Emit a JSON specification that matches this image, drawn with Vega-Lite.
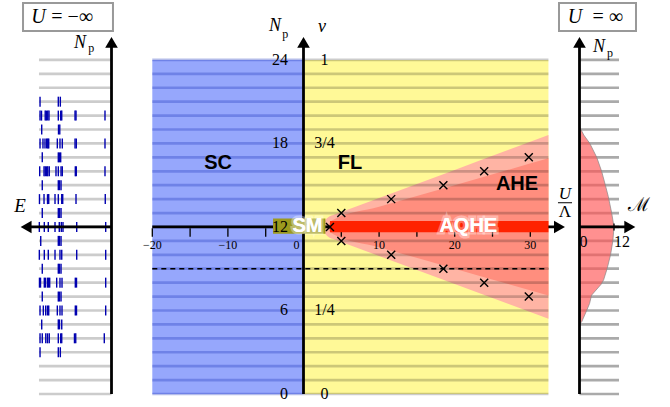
{
"$schema":"https://vega.github.io/schema/vega-lite/v6.json",
"width":670,"height":407,"padding":0,"autosize":{"type":"none"},
"background":"white",
"config":{"view":{"stroke":null}},
"data":{"values":[{}]},
"datasets":{
"levels":[{"Np":0},{"Np":1},{"Np":2},{"Np":3},{"Np":4},{"Np":5},{"Np":6},{"Np":7},{"Np":8},{"Np":9},{"Np":10},{"Np":11},{"Np":12},{"Np":13},{"Np":14},{"Np":15},{"Np":16},{"Np":17},{"Np":18},{"Np":19},{"Np":20},{"Np":21},{"Np":22},{"Np":23},{"Np":24}],
"leftTicks":[
{"Np":21,"E":10.21},{"Np":21,"E":7.6},{"Np":21,"E":7.31},
{"Np":19,"E":9.97},{"Np":19,"E":7.57},{"Np":19,"E":7.39},
{"Np":17,"E":9.89},{"Np":17,"E":7.6},{"Np":17,"E":7.43},{"Np":17,"E":7.26},
{"Np":15,"E":9.89},{"Np":15,"E":7.6},{"Np":15,"E":7.43},{"Np":15,"E":7.21},
{"Np":13,"E":9.89},{"Np":13,"E":7.6},{"Np":13,"E":7.43},{"Np":13,"E":7.21},
{"Np":11,"E":10.11},{"Np":11,"E":7.6},{"Np":11,"E":7.43},{"Np":11,"E":7.21},
{"Np":9,"E":9.89},{"Np":9,"E":7.6},{"Np":9,"E":7.43},{"Np":9,"E":7.21},
{"Np":7,"E":9.89},{"Np":7,"E":7.6},{"Np":7,"E":7.43},{"Np":7,"E":7.21},
{"Np":5,"E":9.97},{"Np":5,"E":7.6},{"Np":5,"E":7.43},{"Np":5,"E":7.11},
{"Np":3,"E":10.21},{"Np":3,"E":7.6},{"Np":3,"E":7.31},
{"Np":20,"E":10.21},{"Np":20,"E":10.0},{"Np":20,"E":9.47},{"Np":20,"E":9.31},{"Np":20,"E":9.11},{"Np":20,"E":8.93},{"Np":20,"E":7.6},{"Np":20,"E":7.26},{"Np":20,"E":7.11},{"Np":20,"E":5.21},{"Np":20,"E":5.07},{"Np":20,"E":0.93},
{"Np":18,"E":10.21},{"Np":18,"E":9.79},{"Np":18,"E":9.5},{"Np":18,"E":9.26},{"Np":18,"E":9.11},{"Np":18,"E":8.97},{"Np":18,"E":7.74},{"Np":18,"E":7.36},{"Np":18,"E":7.03},{"Np":18,"E":5.21},{"Np":18,"E":5.03},{"Np":18,"E":0.93},
{"Np":16,"E":10.26},{"Np":16,"E":9.64},{"Np":16,"E":9.46},{"Np":16,"E":9.26},{"Np":16,"E":9.11},{"Np":16,"E":8.89},{"Np":16,"E":7.93},{"Np":16,"E":7.6},{"Np":16,"E":7.21},{"Np":16,"E":7.03},{"Np":16,"E":5.17},{"Np":16,"E":5.03},{"Np":16,"E":0.93},
{"Np":14,"E":10.29},{"Np":14,"E":9.64},{"Np":14,"E":9.14},{"Np":14,"E":8.97},{"Np":14,"E":8.07},{"Np":14,"E":7.6},{"Np":14,"E":7.11},{"Np":14,"E":6.97},{"Np":14,"E":5.07},{"Np":14,"E":0.89},
{"Np":12,"E":10.31},{"Np":12,"E":9.6},{"Np":12,"E":9.03},{"Np":12,"E":8.07},{"Np":12,"E":7.46},{"Np":12,"E":7.17},{"Np":12,"E":6.93},{"Np":12,"E":4.97},{"Np":12,"E":0.83},
{"Np":10,"E":10.31},{"Np":10,"E":9.6},{"Np":10,"E":9.03},{"Np":10,"E":8.07},{"Np":10,"E":7.36},{"Np":10,"E":7.11},{"Np":10,"E":4.97},{"Np":10,"E":0.83},
{"Np":8,"E":10.29},{"Np":8,"E":10.14},{"Np":8,"E":9.6},{"Np":8,"E":9.43},{"Np":8,"E":9.14},{"Np":8,"E":9.0},{"Np":8,"E":8.83},{"Np":8,"E":7.83},{"Np":8,"E":7.36},{"Np":8,"E":7.07},{"Np":8,"E":5.17},{"Np":8,"E":5.0},{"Np":8,"E":0.83},
{"Np":6,"E":10.21},{"Np":6,"E":9.74},{"Np":6,"E":9.4},{"Np":6,"E":9.14},{"Np":6,"E":8.97},{"Np":6,"E":7.74},{"Np":6,"E":7.36},{"Np":6,"E":7.07},{"Np":6,"E":5.17},{"Np":6,"E":5.0},{"Np":6,"E":0.83},
{"Np":4,"E":10.21},{"Np":4,"E":9.89},{"Np":4,"E":9.39},{"Np":4,"E":9.14},{"Np":4,"E":8.89},{"Np":4,"E":7.6},{"Np":4,"E":7.26},{"Np":4,"E":7.11},{"Np":4,"E":5.29},{"Np":4,"E":5.11},{"Np":4,"E":1.03}
],
"wedgeOut":[{"U":2.45,"lo":12,"hi":12},{"U":2.6,"lo":11.75,"hi":12.25},{"U":2.9,"lo":11.5,"hi":12.5},{"U":3.4,"lo":11.25,"hi":12.75},{"U":3.94,"lo":11.14,"hi":12.86},{"U":10,"lo":9.92,"hi":14.08},{"U":20,"lo":7.9,"hi":16.1},{"U":32.4,"lo":5.4,"hi":18.6}],
"wedgeIn":[{"U":3.2,"lo":12,"hi":12},{"U":3.35,"lo":11.8,"hi":12.2},{"U":3.6,"lo":11.6,"hi":12.4},{"U":3.9,"lo":11.5,"hi":12.5},{"U":10,"lo":10.55,"hi":13.45},{"U":20,"lo":9.0,"hi":15.0},{"U":32.4,"lo":7.07,"hi":16.93}],
"crosses":[{"U":3.5,"Np":12},{"U":5,"Np":13},{"U":5,"Np":11},{"U":11.6,"Np":14},{"U":11.6,"Np":10},{"U":18.5,"Np":15},{"U":18.5,"Np":9},{"U":23.9,"Np":16},{"U":23.9,"Np":8},{"U":29.8,"Np":17},{"U":29.8,"Np":7}],
"ylabels":[{"Np":24,"left":"24","right":"1"},{"Np":18,"left":"18","right":"3/4"},{"Np":12,"left":"12","right":""},{"Np":6,"left":"6","right":"1/4"},{"Np":0,"left":"0","right":"0"}],
"xticks":[{"U":-20,"label":"−20"},{"U":-15,"label":""},{"U":-10,"label":"−10"},{"U":-5,"label":""},{"U":0,"label":""},{"U":5,"label":""},{"U":10,"label":"10"},{"U":15,"label":""},{"U":20,"label":"20"},{"U":25,"label":""},{"U":30,"label":"30"}],
"mprofile":[{"Np":5.0,"M":0},{"Np":5.2,"M":0.8},{"Np":6.0,"M":2.5},{"Np":6.5,"M":3.5},{"Np":7.1,"M":4.2},{"Np":7.9,"M":7.6},{"Np":8.2,"M":8.4},{"Np":9.0,"M":9.6},{"Np":10.0,"M":10.8},{"Np":11.0,"M":11.6},{"Np":12.0,"M":12.0},{"Np":13.0,"M":11.2},{"Np":14.2,"M":10.0},{"Np":15.0,"M":9.0},{"Np":16.0,"M":7.7},{"Np":17.0,"M":6.0},{"Np":18.0,"M":3.6},{"Np":18.6,"M":1.5},{"Np":19.2,"M":0}],
"mticks":[{"M":0,"label":"0"},{"M":12,"label":"12"}],
"phases":[{"U":-11.3,"Np":16.6,"name":"SC"},{"U":6.15,"Np":16.6,"name":"FL"},{"U":28.24,"Np":15.07,"name":"AHE"}],
"whitePhases":[{"U":0.53,"Np":12.08,"name":"SM"},{"U":21.8,"Np":12.08,"name":"AQHE"}]
},
"resolve":{"scale":{"x":"independent"}},
"layer":[
{"layer":[
{"data":{"name":"levels"},"mark":{"type":"rule","color":"#cccccc","strokeWidth":2.7},
 "encoding":{"y":{"field":"Np","type":"quantitative","scale":{"domain":[-0.934,28.305],"nice":false,"zero":false},"axis":null},
 "x":{"datum":0,"type":"quantitative","scale":{"domain":[-79.786,15.929],"reverse":true,"nice":false,"zero":false},"axis":null},"x2":{"datum":10.36}}},
{"data":{"name":"leftTicks"},"mark":{"type":"tick","orient":"vertical","color":"#0000b0","size":10,"thickness":1.4,"opacity":1},
 "encoding":{"x":{"field":"E","type":"quantitative","scale":{"domain":[-79.786,15.929],"reverse":true,"nice":false,"zero":false},"axis":null},
 "y":{"field":"Np","type":"quantitative","scale":{"domain":[-0.934,28.305],"nice":false,"zero":false},"axis":null}}},
{"mark":{"type":"rule","color":"black","strokeWidth":2.8},
 "encoding":{"x":{"datum":0,"type":"quantitative","axis":null},"y":{"datum":0,"type":"quantitative","axis":null},"y2":{"datum":25.1}}},
{"mark":{"type":"point","shape":"triangle-up","size":160,"filled":true,"color":"black","opacity":1},
 "encoding":{"x":{"datum":0,"type":"quantitative","axis":null},"y":{"datum":25.26,"type":"quantitative","axis":null}}},
{"mark":{"type":"rule","color":"black","strokeWidth":2.8},
 "encoding":{"x":{"datum":0,"type":"quantitative","axis":null},"x2":{"datum":12.2},"y":{"datum":12,"type":"quantitative","axis":null}}},
{"mark":{"type":"point","shape":"triangle-left","size":160,"filled":true,"color":"black","opacity":1},
 "encoding":{"x":{"datum":12.2,"type":"quantitative","axis":null},"y":{"datum":12,"type":"quantitative","axis":null}}},
{"mark":{"type":"text","text":"E","font":"Liberation Serif","fontStyle":"italic","fontSize":19},
 "encoding":{"x":{"datum":13.07,"type":"quantitative","axis":null},"y":{"datum":13.54,"type":"quantitative","axis":null}}},
{"mark":{"type":"rect","fill":"white","stroke":"#999999","strokeWidth":2},
 "encoding":{"x":{"datum":12.64,"type":"quantitative","axis":null},"x2":{"datum":-0.21},"y":{"datum":28.09,"type":"quantitative","axis":null},"y2":{"datum":26.08}}},
{"mark":{"type":"text","text":"U","font":"Liberation Serif","fontStyle":"italic","fontSize":20},
 "encoding":{"x":{"datum":10.43,"type":"quantitative","axis":null},"y":{"datum":27.08,"type":"quantitative","axis":null}}},
{"mark":{"type":"text","text":"= −∞","font":"Liberation Serif","fontSize":20,"align":"left"},
 "encoding":{"x":{"datum":8.6,"type":"quantitative","axis":null},"y":{"datum":27.08,"type":"quantitative","axis":null}}},
{"mark":{"type":"text","text":"N","font":"Liberation Serif","fontStyle":"italic","fontSize":18},
 "encoding":{"x":{"datum":4.5,"type":"quantitative","axis":null},"y":{"datum":25.25,"type":"quantitative","axis":null}}},
{"mark":{"type":"text","text":"p","font":"Liberation Serif","fontSize":12},
 "encoding":{"x":{"datum":2.9,"type":"quantitative","axis":null},"y":{"datum":24.86,"type":"quantitative","axis":null}}}
]},
{"layer":[
{"mark":{"type":"rect","color":"#96a7fc","opacity":1},
 "encoding":{"x":{"datum":-20,"type":"quantitative","scale":{"domain":[-40.146,48.479],"nice":false,"zero":false},"axis":null},"x2":{"datum":0},
 "y":{"datum":0,"type":"quantitative","scale":{"domain":[-0.934,28.305],"nice":false,"zero":false},"axis":null},"y2":{"datum":24}}},
{"mark":{"type":"rect","color":"#fff997","opacity":1},
 "encoding":{"x":{"datum":0,"type":"quantitative","axis":null},"x2":{"datum":32.4},"y":{"datum":0,"type":"quantitative","axis":null},"y2":{"datum":24}}},
{"data":{"name":"wedgeOut"},"mark":{"type":"area","color":"#ffb4a4","opacity":1,"interpolate":"monotone"},
 "encoding":{"x":{"field":"U","type":"quantitative","scale":{"domain":[-40.146,48.479],"nice":false,"zero":false},"axis":null},
 "y":{"field":"lo","type":"quantitative","scale":{"domain":[-0.934,28.305],"nice":false,"zero":false},"axis":null},"y2":{"field":"hi"}}},
{"data":{"name":"wedgeIn"},"mark":{"type":"area","color":"#ff8e7e","opacity":1,"interpolate":"monotone"},
 "encoding":{"x":{"field":"U","type":"quantitative","axis":null},
 "y":{"field":"lo","type":"quantitative","axis":null},"y2":{"field":"hi"}}},
{"data":{"name":"levels"},"mark":{"type":"rule","color":"#2840c0","opacity":0.35,"strokeWidth":2.7},
 "encoding":{"y":{"field":"Np","type":"quantitative","axis":null},"x":{"datum":-20,"type":"quantitative","axis":null},"x2":{"datum":0}}},
{"data":{"name":"levels"},"mark":{"type":"rule","color":"black","opacity":0.2,"strokeWidth":2.7},
 "encoding":{"y":{"field":"Np","type":"quantitative","axis":null},"x":{"datum":0,"type":"quantitative","axis":null},"x2":{"datum":32.4}}},
{"mark":{"type":"rule","color":"black","strokeWidth":1.5,"strokeDash":[5,4]},
 "encoding":{"y":{"datum":9,"type":"quantitative","axis":null},"x":{"datum":-20,"type":"quantitative","axis":null},"x2":{"datum":32.4}}},
{"data":{"name":"xticks"},"mark":{"type":"tick","orient":"vertical","color":"black","size":8.5,"thickness":1.3,"yOffset":5.5,"opacity":1},
 "encoding":{"x":{"field":"U","type":"quantitative","axis":null},"y":{"datum":12,"type":"quantitative","axis":null}}},
{"mark":{"type":"rule","color":"black","strokeWidth":2.8},
 "encoding":{"y":{"datum":12,"type":"quantitative","axis":null},"x":{"datum":-20,"type":"quantitative","axis":null},"x2":{"datum":33.9}}},
{"mark":{"type":"point","shape":"triangle-right","size":160,"filled":true,"color":"black","opacity":1},
 "encoding":{"x":{"datum":33.86,"type":"quantitative","axis":null},"y":{"datum":12,"type":"quantitative","axis":null}}},
{"mark":{"type":"rule","color":"black","strokeWidth":2.8},
 "encoding":{"x":{"datum":0,"type":"quantitative","axis":null},"y":{"datum":0,"type":"quantitative","axis":null},"y2":{"datum":25.1}}},
{"mark":{"type":"point","shape":"triangle-up","size":160,"filled":true,"color":"black","opacity":1},
 "encoding":{"x":{"datum":0,"type":"quantitative","axis":null},"y":{"datum":25.26,"type":"quantitative","axis":null}}},
{"mark":{"type":"rect","color":"#9c9a1e","opacity":1},
 "encoding":{"x":{"datum":-4.03,"type":"quantitative","axis":null},"x2":{"datum":2.9},"y":{"datum":11.52,"type":"quantitative","axis":null},"y2":{"datum":12.6}}},
{"mark":{"type":"rect","color":"#ff2200","opacity":1},
 "encoding":{"x":{"datum":3.5,"type":"quantitative","axis":null},"x2":{"datum":32.4},"y":{"datum":11.62,"type":"quantitative","axis":null},"y2":{"datum":12.43}}},
{"data":{"name":"xticks"},"mark":{"type":"text","font":"Liberation Serif","fontSize":12,"dy":18.5,"color":"black"},
 "encoding":{"x":{"field":"U","type":"quantitative","axis":null},"y":{"datum":12,"type":"quantitative","axis":null},"text":{"field":"label"}}},
{"mark":{"type":"text","text":"0","font":"Liberation Serif","fontSize":12,"dy":18.5,"dx":-7,"color":"black"},
 "encoding":{"x":{"datum":0,"type":"quantitative","axis":null},"y":{"datum":12,"type":"quantitative","axis":null}}},
{"data":{"name":"crosses"},"mark":{"type":"point","shape":"M-1,-1L1,1M-1,1L1,-1","size":64,"filled":false,"stroke":"black","strokeWidth":1.4,"opacity":1},
 "encoding":{"x":{"field":"U","type":"quantitative","axis":null},"y":{"field":"Np","type":"quantitative","axis":null}}},
{"data":{"name":"ylabels"},"mark":{"type":"text","font":"Liberation Serif","fontSize":16,"align":"right","dx":-15.5,"color":"black"},
 "encoding":{"x":{"datum":0,"type":"quantitative","axis":null},"y":{"field":"Np","type":"quantitative","axis":null},"text":{"field":"left"}}},
{"data":{"name":"ylabels"},"mark":{"type":"text","font":"Liberation Serif","fontSize":16,"align":"center","dx":21,"color":"black"},
 "encoding":{"x":{"datum":0,"type":"quantitative","axis":null},"y":{"field":"Np","type":"quantitative","axis":null},"text":{"field":"right"}}},
{"mark":{"type":"text","text":"N","font":"Liberation Serif","fontStyle":"italic","fontSize":18},
 "encoding":{"x":{"datum":-3.77,"type":"quantitative","axis":null},"y":{"datum":26.44,"type":"quantitative","axis":null}}},
{"mark":{"type":"text","text":"p","font":"Liberation Serif","fontSize":12},
 "encoding":{"x":{"datum":-2.4,"type":"quantitative","axis":null},"y":{"datum":25.86,"type":"quantitative","axis":null}}},
{"mark":{"type":"text","text":"ν","font":"Liberation Serif","fontStyle":"italic","fontSize":18},
 "encoding":{"x":{"datum":2.45,"type":"quantitative","axis":null},"y":{"datum":26.37,"type":"quantitative","axis":null}}},
{"mark":{"type":"text","text":"U","font":"Liberation Serif","fontStyle":"italic","fontSize":17},
 "encoding":{"x":{"datum":34.59,"type":"quantitative","axis":null},"y":{"datum":14.35,"type":"quantitative","axis":null}}},
{"mark":{"type":"rule","color":"black","strokeWidth":1},
 "encoding":{"x":{"datum":33.66,"type":"quantitative","axis":null},"x2":{"datum":35.52},"y":{"datum":13.74,"type":"quantitative","axis":null}}},
{"mark":{"type":"text","text":"Λ","font":"Liberation Serif","fontSize":17},
 "encoding":{"x":{"datum":34.59,"type":"quantitative","axis":null},"y":{"datum":13.04,"type":"quantitative","axis":null}}},
{"data":{"name":"phases"},"mark":{"type":"text","font":"Liberation Sans","fontWeight":"bold","fontSize":20,"color":"black"},
 "encoding":{"x":{"field":"U","type":"quantitative","axis":null},"y":{"field":"Np","type":"quantitative","axis":null},"text":{"field":"name"}}},
{"data":{"name":"whitePhases"},"mark":{"type":"text","font":"Liberation Sans","fontWeight":"bold","fontSize":20,"fill":"white","stroke":"white","strokeWidth":5,"strokeOpacity":0.35,"opacity":1},
 "encoding":{"x":{"field":"U","type":"quantitative","axis":null},"y":{"field":"Np","type":"quantitative","axis":null},"text":{"field":"name"}}},
{"data":{"name":"whitePhases"},"mark":{"type":"text","font":"Liberation Sans","fontWeight":"bold","fontSize":20,"color":"white"},
 "encoding":{"x":{"field":"U","type":"quantitative","axis":null},"y":{"field":"Np","type":"quantitative","axis":null},"text":{"field":"name"}}}
]},
{"layer":[
{"data":{"name":"levels"},"mark":{"type":"rule","color":"#aaaaaa","strokeWidth":2.7},
 "encoding":{"y":{"field":"Np","type":"quantitative","scale":{"domain":[-0.934,28.305],"nice":false,"zero":false},"axis":null},
 "x":{"datum":0,"type":"quantitative","scale":{"domain":[-201.565,31.478],"nice":false,"zero":false},"axis":null},"x2":{"datum":13.74}}},
{"data":{"name":"mprofile"},"mark":{"type":"area","orient":"horizontal","fill":"#ff5555","fillOpacity":0.65,"stroke":"#888888","strokeWidth":0.7},
 "encoding":{"y":{"field":"Np","type":"quantitative","axis":null},"x":{"field":"M","type":"quantitative","axis":null},"x2":{"datum":0}}},
{"mark":{"type":"rule","color":"black","strokeWidth":2.8},
 "encoding":{"x":{"datum":0,"type":"quantitative","axis":null},"y":{"datum":0,"type":"quantitative","axis":null},"y2":{"datum":25.1}}},
{"mark":{"type":"point","shape":"triangle-up","size":160,"filled":true,"color":"black","opacity":1},
 "encoding":{"x":{"datum":0,"type":"quantitative","axis":null},"y":{"datum":25.26,"type":"quantitative","axis":null}}},
{"mark":{"type":"rule","color":"black","strokeWidth":2.8},
 "encoding":{"x":{"datum":0,"type":"quantitative","axis":null},"x2":{"datum":17.4},"y":{"datum":12,"type":"quantitative","axis":null}}},
{"mark":{"type":"point","shape":"triangle-right","size":160,"filled":true,"color":"black","opacity":1},
 "encoding":{"x":{"datum":17.5,"type":"quantitative","axis":null},"y":{"datum":12,"type":"quantitative","axis":null}}},
{"mark":{"type":"tick","orient":"vertical","color":"black","size":7,"thickness":1.3,"opacity":1},
 "encoding":{"x":{"datum":12,"type":"quantitative","axis":null},"y":{"datum":12,"type":"quantitative","axis":null}}},
{"data":{"name":"mticks"},"mark":{"type":"text","font":"Liberation Serif","fontSize":16,"align":"left","dy":15,"color":"black"},
 "encoding":{"x":{"field":"M","type":"quantitative","axis":null},"y":{"datum":12,"type":"quantitative","axis":null},"text":{"field":"label"}}},
{"mark":{"type":"text","text":"ℳ","font":"DejaVu Serif","fontSize":19},
 "encoding":{"x":{"datum":20.7,"type":"quantitative","axis":null},"y":{"datum":13.58,"type":"quantitative","axis":null}}},
{"mark":{"type":"rect","fill":"white","stroke":"#999999","strokeWidth":2},
 "encoding":{"x":{"datum":-7.13,"type":"quantitative","axis":null},"x2":{"datum":19.65},"y":{"datum":28.09,"type":"quantitative","axis":null},"y2":{"datum":26.08}}},
{"mark":{"type":"text","text":"U","font":"Liberation Serif","fontStyle":"italic","fontSize":20},
 "encoding":{"x":{"datum":-1.57,"type":"quantitative","axis":null},"y":{"datum":27.08,"type":"quantitative","axis":null}}},
{"mark":{"type":"text","text":"= ∞","font":"Liberation Serif","fontSize":20,"align":"left"},
 "encoding":{"x":{"datum":4.5,"type":"quantitative","axis":null},"y":{"datum":27.08,"type":"quantitative","axis":null}}},
{"mark":{"type":"text","text":"N","font":"Liberation Serif","fontStyle":"italic","fontSize":18},
 "encoding":{"x":{"datum":6.78,"type":"quantitative","axis":null},"y":{"datum":24.9,"type":"quantitative","axis":null}}},
{"mark":{"type":"text","text":"p","font":"Liberation Serif","fontSize":12},
 "encoding":{"x":{"datum":10.6,"type":"quantitative","axis":null},"y":{"datum":24.53,"type":"quantitative","axis":null}}}
]}
]
}
